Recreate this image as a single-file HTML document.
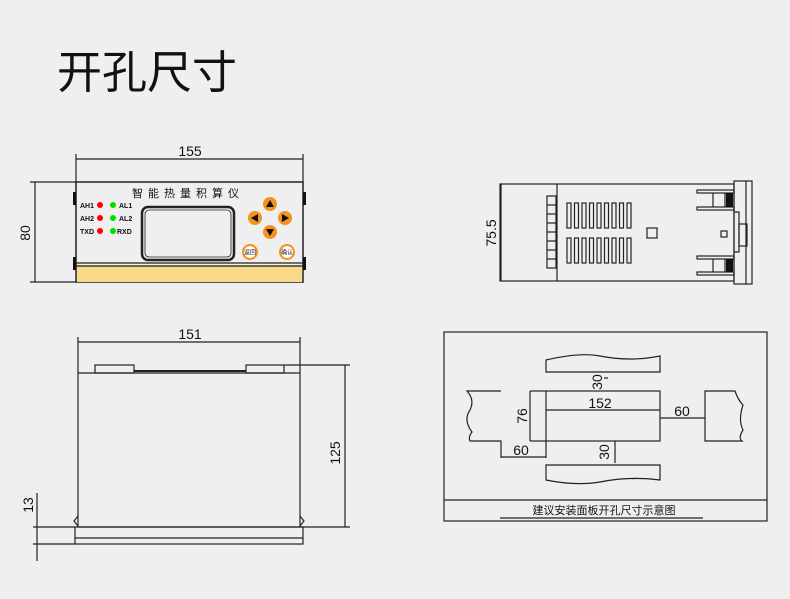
<!DOCTYPE html>
<html><head><meta charset="utf-8"><style>
html,body{margin:0;padding:0;background:#efefef;}
svg{display:block;}
text{font-family:"Liberation Sans","Noto Sans CJK SC",sans-serif;fill:#111;}
</style></head><body>
<svg width="790" height="599" viewBox="0 0 790 599" xmlns="http://www.w3.org/2000/svg">
<rect width="790" height="599" fill="#efefef"/>
<text x="57" y="88" font-size="45" font-family="Noto Sans CJK SC, sans-serif">开孔尺寸</text>

<g stroke="#222" fill="none" stroke-width="1.2">
<!-- front view -->
<line x1="76" y1="159" x2="303" y2="159"/>
<line x1="76" y1="154" x2="76" y2="182"/>
<line x1="303" y1="154" x2="303" y2="182"/>
<line x1="35" y1="182" x2="35" y2="282"/>
<line x1="30" y1="182" x2="76" y2="182"/>
<line x1="30" y1="282" x2="76" y2="282"/>
<rect x="76" y="182" width="227" height="100" stroke-width="1.5"/>
<rect x="77" y="265" width="225" height="17" fill="#f7d98a" stroke="none"/>
<line x1="76" y1="263" x2="303" y2="263"/>
<line x1="76" y1="266" x2="303" y2="266"/>
<rect x="142" y="207" width="92" height="53" rx="6" stroke-width="2.5"/>
<rect x="145" y="210" width="86" height="47" rx="4" stroke-width="0.8"/>
</g>
<rect x="73" y="192" width="3" height="13" fill="#111"/>
<rect x="73" y="257" width="3" height="13" fill="#111"/>
<rect x="303" y="192" width="3" height="13" fill="#111"/>
<rect x="303" y="257" width="3" height="13" fill="#111"/>
<text x="190" y="156" font-size="14" text-anchor="middle">155</text>
<text x="0" y="0" font-size="14" text-anchor="middle" transform="translate(30,233) rotate(-90)">80</text>
<text x="188" y="197" font-size="11" text-anchor="middle" letter-spacing="5" font-family="Noto Serif CJK SC, serif">智能热量积算仪</text>
<g font-size="7" font-weight="bold">
<text x="80" y="208">AH1</text><text x="80" y="221">AH2</text><text x="80" y="234">TXD</text>
<text x="119" y="208">AL1</text><text x="119" y="221">AL2</text><text x="117" y="234">RXD</text>
</g>
<g fill="#f00"><circle cx="100" cy="205" r="3"/><circle cx="100" cy="218" r="3"/><circle cx="100" cy="231" r="3"/></g>
<g fill="#0d0"><circle cx="113" cy="205" r="3"/><circle cx="113" cy="218" r="3"/><circle cx="113" cy="231" r="3"/></g>
<g fill="#f5921e"><circle cx="270" cy="204" r="7"/><circle cx="255" cy="218" r="7"/><circle cx="285" cy="218" r="7"/><circle cx="270" cy="232" r="7"/></g>
<g fill="#111"><path d="M266 207 L274 207 L270 200Z"/><path d="M258 214 L258 222 L251 218Z"/><path d="M282 214 L282 222 L289 218Z"/><path d="M266 229 L274 229 L270 236Z"/></g>
<circle cx="250" cy="252" r="7" fill="#fff" stroke="#f5921e" stroke-width="2"/>
<circle cx="287" cy="252" r="7" fill="#fff" stroke="#f5921e" stroke-width="2"/>
<text x="250" y="254.5" font-size="6" text-anchor="middle">返回</text>
<text x="287" y="254.5" font-size="6" text-anchor="middle">确认</text>

<!-- side view -->
<g stroke="#222" fill="none" stroke-width="1.2">
<rect x="500" y="184" width="234" height="97"/>
<line x1="557" y1="184" x2="557" y2="281"/>
<line x1="501" y1="184" x2="501" y2="281"/>
<rect x="547" y="196" width="9" height="72"/>
<line x1="547" y1="205" x2="556" y2="205"/><line x1="547" y1="214" x2="556" y2="214"/><line x1="547" y1="223" x2="556" y2="223"/><line x1="547" y1="232" x2="556" y2="232"/><line x1="547" y1="241" x2="556" y2="241"/><line x1="547" y1="250" x2="556" y2="250"/><line x1="547" y1="259" x2="556" y2="259"/>
<g id="v"><rect x="567" y="203" width="4" height="25"/><rect x="574.5" y="203" width="4" height="25"/><rect x="582" y="203" width="4" height="25"/><rect x="589.5" y="203" width="4" height="25"/><rect x="597" y="203" width="4" height="25"/><rect x="604.5" y="203" width="4" height="25"/><rect x="612" y="203" width="4" height="25"/><rect x="619.5" y="203" width="4" height="25"/><rect x="627" y="203" width="4" height="25"/></g>
<use href="#v" y="35"/>
<rect x="647" y="228" width="10" height="10"/>
<rect x="734" y="181" width="18" height="103"/>
<line x1="746" y1="181" x2="746" y2="284"/>
<path d="M734 212 H739 V252 H734"/>
<rect x="739" y="224" width="8" height="22"/>
<rect x="721" y="231" width="6" height="6"/>
<rect x="697" y="190" width="37" height="3"/><rect x="697" y="207" width="37" height="3"/>
<line x1="713" y1="193" x2="713" y2="207"/><line x1="725" y1="193" x2="725" y2="207"/>
<rect x="697" y="256" width="37" height="3"/><rect x="697" y="272" width="37" height="3"/>
<line x1="713" y1="259" x2="713" y2="272"/><line x1="725" y1="259" x2="725" y2="272"/>
</g>
<rect x="726" y="193" width="7" height="14" fill="#111"/>
<rect x="726" y="259" width="7" height="13" fill="#111"/>
<text x="0" y="0" font-size="14" text-anchor="middle" transform="translate(496,233) rotate(-90)">75.5</text>

<!-- bottom view -->
<g stroke="#222" fill="none" stroke-width="1.2">
<line x1="78" y1="342" x2="300" y2="342"/>
<line x1="78" y1="337" x2="78" y2="527"/>
<line x1="300" y1="337" x2="300" y2="527"/>
<line x1="78" y1="373" x2="300" y2="373"/>
<rect x="95" y="365" width="39" height="8"/>
<rect x="246" y="365" width="38" height="8"/>
<line x1="284" y1="365" x2="350" y2="365"/>
<line x1="134" y1="371" x2="246" y2="371" stroke-width="2"/>
<line x1="345" y1="365" x2="345" y2="527"/>
<line x1="78" y1="527" x2="350" y2="527"/>
<rect x="75" y="527" width="228" height="17"/>
<line x1="75" y1="538" x2="303" y2="538"/>
<line x1="37" y1="493" x2="37" y2="561"/>
<line x1="33" y1="527" x2="75" y2="527"/>
<line x1="33" y1="544" x2="75" y2="544"/>
<path d="M78 516 L74 521 L78 526"/><path d="M300 516 L304 521 L300 526"/>
</g>
<text x="190" y="339" font-size="14" text-anchor="middle">151</text>
<text x="0" y="0" font-size="14" text-anchor="middle" transform="translate(340,453) rotate(-90)">125</text>
<text x="0" y="0" font-size="14" text-anchor="middle" transform="translate(33,505) rotate(-90)">13</text>

<!-- cutout -->
<g stroke="#222" fill="none" stroke-width="1.2">
<rect x="444" y="332" width="323" height="189"/>
<line x1="444" y1="500" x2="767" y2="500"/>
<line x1="500" y1="518" x2="703" y2="518"/>
<path d="M546 372 V360 Q580 352 600 356 Q630 362 660 356 V372 Z"/>
<path d="M546 465 V480 Q575 486 600 482 Q630 476 660 480 V465 Z"/>
<rect x="546" y="391" width="114" height="50"/>
<line x1="546" y1="410" x2="660" y2="410"/>
<line x1="530" y1="391" x2="546" y2="391"/>
<line x1="530" y1="441" x2="546" y2="441"/>
<line x1="530" y1="391" x2="530" y2="441"/>
<path d="M501 391 H467 Q475 400 470 410 Q463 420 472 432 Q468 437 470 441 H501 V458"/>
<line x1="501" y1="457" x2="546" y2="457"/>
<line x1="546" y1="441" x2="546" y2="458"/>
<line x1="615" y1="441" x2="615" y2="463"/>
<line x1="660" y1="418" x2="705" y2="418"/>
<path d="M705 391 H735 Q738 400 743 405 Q738 420 743 430 Q738 438 742 441 H705 Z"/>
<line x1="604" y1="378" x2="608" y2="378"/>
</g>
<text x="600" y="408" font-size="14" text-anchor="middle">152</text>
<text x="682" y="416" font-size="14" text-anchor="middle">60</text>
<text x="521" y="455" font-size="14" text-anchor="middle">60</text>
<text x="0" y="0" font-size="14" text-anchor="middle" transform="translate(527,416) rotate(-90)">76</text>
<text x="0" y="0" font-size="14" text-anchor="middle" transform="translate(602,382) rotate(-90)">30</text>
<text x="0" y="0" font-size="14" text-anchor="middle" transform="translate(609,452) rotate(-90)">30</text>
<text x="604" y="514" font-size="11" text-anchor="middle" font-family="Noto Sans CJK SC, sans-serif">建议安装面板开孔尺寸示意图</text>
</svg>
</body></html>
